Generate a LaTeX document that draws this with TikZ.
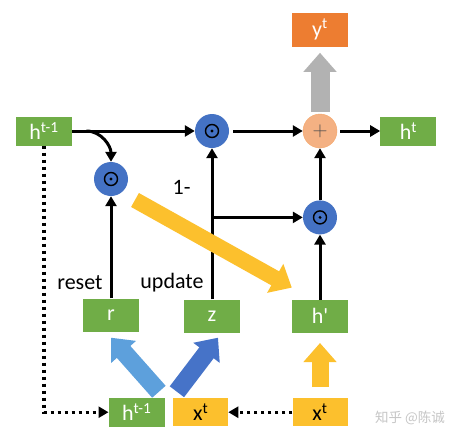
\documentclass[tikz,border=0pt]{standalone}
\usepackage{fontspec}
\setmainfont{Carlito}
\newfontfamily\cjkfont{Noto Sans CJK SC}
\usetikzlibrary{positioning,arrows.meta}
\usetikzlibrary{calc}

\definecolor{boxGreen}{RGB}{112,173,71}
\definecolor{boxOrange}{RGB}{237,125,49}
\definecolor{boxYellow}{RGB}{252,192,45}
\definecolor{gateBlue}{RGB}{68,114,196}
\definecolor{plusPink}{RGB}{244,177,131}
\definecolor{lightBlue}{RGB}{93,160,220}
\definecolor{darkBlue}{RGB}{70,115,200}

\begin{document}
\begin{tikzpicture}[x=1pt,y=1pt]
  \tikzstyle{box} = [
    % The shape:
    rectangle, minimum width=56pt, minimum height=29pt, inner sep=0pt,
    % The filling:
    fill=boxGreen,
    % Font:
    text=white, font=\fontsize{22}{24}\selectfont
  ];
  \tikzstyle{gateBox} = [box, minimum height=33pt];
  \tikzstyle{orangeBox} = [box, fill=boxOrange, minimum height=34pt];
  \tikzstyle{yellowBox} = [box, fill=boxYellow, text=black, minimum width=55pt, minimum height=28pt];
  \tikzstyle{gate} = [
    % The shape:
    circle, minimum size=34pt, inner sep=0pt,
    % The filling:
    fill=gateBlue,
    % The dot in a ring:
    path picture={
      \draw [black, line width=1.4pt] (path picture bounding box.center) circle (6.5pt);
      \fill [black] (path picture bounding box.center) circle (1.6pt);
    }
  ];
  \tikzstyle{plus} = [
    circle, minimum size=34pt, inner sep=0pt,
    fill=plusPink, draw=plusPink!80!orange,
    text=gray!60!black, font=\fontsize{22}{24}\selectfont
  ];
  \tikzstyle{gateLabel} = [
    % Just text!
    inner sep=0pt, font=\fontsize{22}{24}\selectfont
  ];
  \tikzstyle{flow} = [
    draw = black,
    line width=3pt,
    -{Triangle[length=10pt,width=11pt]}
  ];
  \tikzstyle{dottedFlow} = [flow, line width=3.4pt, dash pattern=on 3.4pt off 3.6pt];
  \tikzstyle{fatArrow} = [
    line width=17pt,
    -{Triangle[length=19pt,width=32pt]}
  ];

  % white page
  \fill [white] (0,0) rectangle (449,-434);
  \useasboundingbox (0,0) rectangle (449,-434);

  \node [box] (hPrevTop) at (44,-131) {h\textsuperscript{t-1}};
  \node [gate] (topGate) at (212,-131) {};
  \node [plus] (plusGate) at (320,-131) {$+$};
  \node [box, right = 43pt of plusGate] (hT) {h\textsuperscript{t}};
  \node [orangeBox, above = 67pt of plusGate] (yT) {y\textsuperscript{t}};

  \node [gate] (resetGate) at (111,-179) {};
  \node [gate, below = 52pt of plusGate] (lowGate) {};

  \node [gateBox, below = 65pt of lowGate] (hPrime) {h\textquotesingle};
  \node [gateBox] (rBox) at (111,-315) {r};
  \node [gateBox] (zBox) at (212,-316) {z};

  \node [yellowBox, below = 65pt of hPrime] (xRight) {x\textsuperscript{t}};
  \node [yellowBox, left = 64pt of xRight] (xMid) {x\textsuperscript{t}};
  \node [box, left = 8pt of xMid] (hPrevBot) {h\textsuperscript{t-1}};

  \node [text=gray!45] (mark) at (410,-418) {\cjkfont\fontsize{13.5}{15}\selectfont 知乎 @陈诚};

  \coordinate (split) at ($(hPrevTop.east)+(14,0)$);
  \coordinate (inputs) at ($(hPrevBot.north east)!0.5!(xMid.north west)$);

  \path [flow] (hPrevTop) to (topGate);
  \path [flow] (split) to[out=0, in=90] (resetGate.north);
  \path [flow, shorten <=4pt] (topGate) to (plusGate);
  \path [flow, shorten <=3pt] (plusGate) to (hT);
  \path [flow] (lowGate) to (plusGate);
  \path [flow] (hPrime) to (lowGate);
  \path [flow] (rBox) to node[gateLabel, pos=0.15, left=7pt]{reset} (resetGate);
  \path [flow] (zBox) to node[gateLabel, pos=0.11, left=7pt]{update}
                         node[gateLabel, pos=0.74, left=20pt]{1-} (topGate);
  \path [flow] (zBox.north |- lowGate) to (lowGate);

  \path [dottedFlow] (hPrevTop.south) |- (hPrevBot.west);
  \path [dottedFlow] (xRight) to (xMid);

  \draw [fatArrow, gray!60, line width=19pt, shorten <=2pt, shorten >=6pt] (plusGate) -- (yT);
  \draw [fatArrow, boxYellow, shorten <=11pt, shorten >=10pt] (xRight) -- (hPrime);
  \draw [fatArrow, boxYellow, line width=16pt]
        ($(resetGate)+(24,-21)$) -- ($(hPrime.north west)+(0,12)$);
  \draw [fatArrow, lightBlue, line width=18pt]
        ($(inputs)+(-10,6)$) -- ($(rBox.south)+(0,-6)$);
  \draw [fatArrow, darkBlue, line width=18pt]
        ($(inputs)+(8,6)$) -- ($(zBox.south)+(6,-5)$);
\end{tikzpicture}
\end{document}
